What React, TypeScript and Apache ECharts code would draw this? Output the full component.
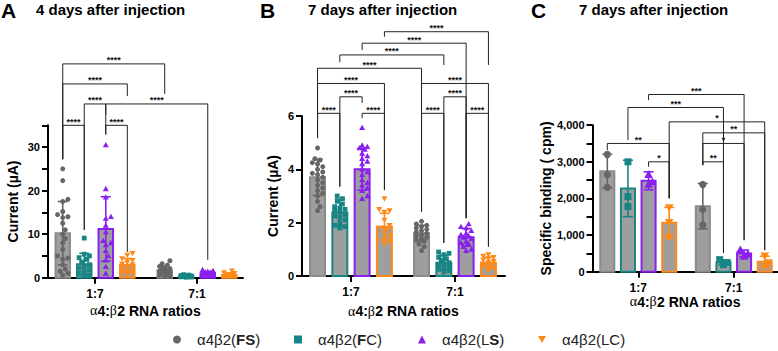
import React, { useEffect, useRef } from 'react';
import * as echarts from 'echarts';

// ---------- shared ----------
const categories = ['1:7', '7:1'];
const groupNames = ['α4β2(FS)', 'α4β2(FC)', 'α4β2(LS)', 'α4β2(LC)'];
const groupColors = ['#666666', '#178583', '#8a1ff0', '#ff8a1a'];
const barStrokes = ['#8a8a8a', '#178583', '#8a1ff0', '#ff8a1a'];
const barFill = '#9e9e9e';
const groupShapes = ['circle', 'square', 'triangle', 'invTriangle'];
const legendIcons = ['circle', 'rect', 'triangle', 'path://M0,0L10,0L5,9Z'];
const legendBold = [[true, true], [true, false], [false, true], [false, false]];
const legendLefts = [173, 294, 418, 538];

// ---------- panel A : 4 days, current (µA) ----------
const aMean = [[10.2, 1.7], [3.1, 0.3], [11.2, 1.0], [2.9, 0.6]];
const aSD = [[7.3, 0.9], [2.5, 0.2], [7.4, 0.4], [1.5, 0.4]];
const aFS17 = [25, 22.3, 18, 17.5, 15.2, 14.5, 14, 13.8, 12.5, 11, 10, 9, 8, 6.5, 5, 4.5, 4.2, 3, 2, 1.5, 1, 0.6];
const aFS71 = [3.9, 3.2, 2.9, 2.6, 2.3, 2.1, 1.9, 1.7, 1.5, 1.3, 1.2, 1.0, 0.8, 0.6, 0.4, 0.3];
const aFC17 = [9.1, 5.4, 5.0, 4.6, 4.2, 3.6, 3.0, 2.6, 2.2, 1.8, 1.4, 1.0, 0.6, 0.4];
const aFC71 = [0.7, 0.6, 0.5, 0.4, 0.35, 0.3, 0.25, 0.2, 0.15, 0.1];
const aLS17 = [30.5, 20.4, 18.5, 14, 13.6, 12, 10.5, 8.5, 8, 7.5, 6.2, 5, 4, 2.5, 1];
const aLS71 = [1.8, 1.6, 1.4, 1.3, 1.2, 1.1, 1.0, 0.9, 0.8, 0.7, 0.6, 0.5, 0.4];
const aLC17 = [5.6, 5.2, 4.4, 4.0, 3.6, 3.2, 3.0, 2.6, 2.3, 2.0, 1.6, 1.3, 1.0, 0.7];
const aLC71 = [1.6, 1.2, 1.0, 0.8, 0.6, 0.5, 0.4, 0.3, 0.2];
const aTicks = [0, 5, 10, 15, 20, 25, 30, 35];
const aLabels = [0, 10, 20, 30];
// [group1, bar1, group2, bar2, level, leftLegEnd, rightLegEnd, label]
const aBrackets: [number, number, number, number, number, number, number, string][] = [
  [0, 0, 1, 0, 49.1, 27.2, 42.2, '****'],
  [0, 0, 0, 3, 44.5, 27.2, 41.7, '****'],
  [0, 1, 0, 2, 39.9, 11.0, 37.5, '****'],
  [0, 2, 1, 2, 39.9, 32.9, 4.1, '****'],
  [0, 0, 0, 1, 35.0, 27.2, 11.0, '****'],
  [0, 2, 0, 3, 35.0, 32.9, 5.9, '****'],
];

// ---------- panel B : 7 days, current (µA) ----------
const bMean = [[3.7, 1.6], [2.38, 0.5], [4.0, 1.45], [1.85, 0.5]];
const bSD = [[0.68, 0.3], [0.5, 0.28], [0.78, 0.33], [0.5, 0.2]];
const bFS17 = [4.8, 4.4, 4.35, 4.25, 4.2, 4.1, 4.0, 3.9, 3.85, 3.8, 3.7, 3.6, 3.5, 3.4, 3.3, 3.2, 3.1, 3.0, 2.8, 2.6, 2.45];
const bFS71 = [2.05, 1.95, 1.9, 1.85, 1.8, 1.75, 1.7, 1.65, 1.6, 1.55, 1.5, 1.45, 1.4, 1.35, 1.3, 1.2, 1.1, 0.95];
const bFC17 = [3.0, 2.9, 2.8, 2.7, 2.6, 2.55, 2.5, 2.45, 2.4, 2.3, 2.25, 2.2, 2.1, 2.0, 1.9, 1.85, 1.8];
const bFC71 = [0.9, 0.85, 0.8, 0.7, 0.65, 0.6, 0.5, 0.45, 0.4, 0.35, 0.3, 0.25, 0.2, 0.15];
const bLS17 = [5.56, 4.9, 4.85, 4.8, 4.75, 4.6, 4.5, 4.4, 4.3, 4.2, 4.0, 3.9, 3.8, 3.6, 3.5, 3.4, 3.3, 3.2, 3.0, 2.9];
const bLS71 = [1.95, 1.85, 1.8, 1.7, 1.6, 1.55, 1.5, 1.45, 1.4, 1.3, 1.25, 1.2, 1.1, 1.0, 0.95];
const bLC17 = [2.9, 2.5, 2.45, 2.4, 2.1, 1.9, 1.8, 1.75, 1.6, 1.5, 1.4, 1.3, 1.2];
const bLC71 = [0.8, 0.75, 0.7, 0.65, 0.6, 0.55, 0.5, 0.45, 0.4, 0.35, 0.3, 0.2];
const bTicks = [0, 2, 4, 6];
const bLabels = [0, 2, 4, 6];
const bBrackets: [number, number, number, number, number, number, number, string][] = [
  [0, 3, 1, 3, 9.16, 8.97, 7.91, '****'],
  [0, 2, 1, 2, 8.73, 8.47, 2.17, '****'],
  [0, 1, 1, 1, 8.29, 8.02, 7.91, '****'],
  [0, 0, 1, 0, 7.79, 5.17, 6.9, '****'],
  [0, 0, 0, 3, 7.22, 5.17, 3.22, '****'],
  [1, 0, 1, 3, 7.22, 2.41, 1.1, '****'],
  [0, 1, 0, 2, 6.72, 3.35, 6.49, '****'],
  [1, 1, 1, 2, 6.72, 1.24, 2.17, '****'],
  [0, 0, 0, 1, 6.1, 5.17, 3.35, '****'],
  [0, 2, 0, 3, 6.1, 5.92, 3.22, '****'],
  [1, 0, 1, 1, 6.1, 2.41, 1.24, '****'],
  [1, 2, 1, 3, 6.1, 2.17, 1.1, '****'],
];

// ---------- panel C : 7 days, specific binding (cpm) ----------
const cMean = [[2745, 1790], [2273, 255], [2482, 500], [1336, 273]];
const cSD = [[460, 620], [770, 70], [245, 90], [420, 150]];
const cFS17 = [3200, 2650, 2300];
const cFS71 = [2380, 1700, 1280];
const cFC17 = [3000, 2050, 1780];
const cFC71 = [330, 250, 190];
const cLS17 = [2650, 2450, 2380];
const cLS71 = [600, 480, 420];
const cLC17 = [1750, 1350, 950];
const cLC71 = [430, 250, 140];
const cTicks = [0, 500, 1000, 1500, 2000, 2500, 3000, 3500, 4000];
const cLabels = [0, 1000, 2000, 3000, 4000];
const cBrackets: [number, number, number, number, number, number, number, string][] = [
  [0, 2, 1, 2, 4838, 4683, 860, '***'],
  [0, 1, 1, 1, 4484, 3592, 510, '***'],
  [0, 3, 1, 3, 4091, 2005, 590, '*'],
  [1, 0, 1, 3, 3791, 2910, 590, '**'],
  [1, 0, 1, 2, 3502, 2910, 860, '*'],
  [0, 0, 0, 3, 3502, 3319, 2005, '**'],
  [0, 2, 0, 3, 3000, 2864, 2005, '*'],
  [1, 0, 1, 1, 3000, 2910, 510, '**'],
];

const FONT = '"Liberation Sans", Arial, Helvetica, sans-serif';

type Panel = {
  letter: string;
  title: string;
  letterX: number;
  titleX: number;
  grid: { left: number; top: number; width: number; height: number };
  xMin: number;
  xMax: number;
  spacing: number;
  barW: number;
  markerScale: number;
  yMax: number;
  yInterval: number;
  yTicks: number[];
  yLabels: number[];
  yName: string;
  yNameGap: number;
  xNameGap: number;
  fmt: (v: number) => string;
  means: number[][];
  sds: number[][];
  points: number[][][];
  brackets: [number, number, number, number, number, number, number, string][];
};

const panels: Panel[] = [
  {
    letter: 'A', title: '4 days after injection', letterX: 1, titleX: 36,
    grid: { left: 48, top: 125.3, width: 195, height: 152.4 },
    xMin: -0.461, xMax: 1.451, spacing: 0.211, barW: 0.142, markerScale: 1,
    yMax: 35, yInterval: 5, yTicks: aTicks, yLabels: aLabels,
    yName: 'Current (µA)', yNameGap: 28, xNameGap: 26,
    fmt: (v) => String(v),
    means: aMean, sds: aSD,
    points: [[aFS17, aFS71], [aFC17, aFC71], [aLS17, aLS71], [aLC17, aLC71]],
    brackets: aBrackets,
  },
  {
    letter: 'B', title: '7 days after injection', letterX: 260, titleX: 308,
    grid: { left: 302, top: 116, width: 203, height: 160 },
    xMin: -0.471, xMax: 1.481, spacing: 0.2144, barW: 0.144, markerScale: 1,
    yMax: 6, yInterval: 2, yTicks: bTicks, yLabels: bLabels,
    yName: 'Current (µA)', yNameGap: 22, xNameGap: 28,
    fmt: (v) => String(v),
    means: bMean, sds: bSD,
    points: [[bFS17, bFS71], [bFC17, bFC71], [bLS17, bLS71], [bLC17, bLC71]],
    brackets: bBrackets,
  },
  {
    letter: 'C', title: '7 days after injection', letterX: 531, titleX: 579,
    grid: { left: 592.5, top: 125.2, width: 185.5, height: 146.5 },
    xMin: -0.479, xMax: 1.463, spacing: 0.216, barW: 0.147, markerScale: 1.45,
    yMax: 4000, yInterval: 500, yTicks: cTicks, yLabels: cLabels,
    yName: 'Specific binding ( cpm)', yNameGap: 40, xNameGap: 21,
    fmt: (v) => v.toLocaleString('en-US'),
    means: cMean, sds: cSD,
    points: [[cFS17, cFS71], [cFC17, cFC71], [cLS17, cLS71], [cLC17, cLC71]],
    brackets: cBrackets,
  },
];

// deterministic beeswarm: spread points sideways only where they would overlap
function swarm(pys: number[], cx: number, step: number, minDist: number, maxOff: number): number[] {
  const idx = pys.map((_, i) => i).sort((a, b) => pys[b] - pys[a]);
  const placed: [number, number][] = [];
  const xs: number[] = new Array(pys.length).fill(cx);
  for (const i of idx) {
    const y = pys[i];
    let chosen = cx;
    let bestScore = -1;
    const nSteps = Math.floor(maxOff / step);
    for (let k = 0; k <= nSteps * 2; k++) {
      const off = k === 0 ? 0 : (k % 2 ? 1 : -1) * Math.ceil(k / 2) * step;
      const x = cx + off;
      let md = Infinity;
      for (const [px, py] of placed) {
        const d = Math.hypot(px - x, py - y);
        if (d < md) md = d;
      }
      if (md >= minDist) { chosen = x; bestScore = Infinity; break; }
      if (md > bestScore) { bestScore = md; chosen = x; }
    }
    xs[i] = chosen;
    placed.push([chosen, y]);
  }
  return xs;
}

function marker(shape: string, cx: number, cy: number, color: string, s: number): any {
  if (shape === 'circle') return { type: 'circle', shape: { cx, cy, r: 2.5 * s }, style: { fill: color } };
  if (shape === 'square') return { type: 'rect', shape: { x: cx - 2.4 * s, y: cy - 2.4 * s, width: 4.8 * s, height: 4.8 * s }, style: { fill: color } };
  if (shape === 'triangle') return { type: 'polygon', shape: { points: [[cx, cy - 3 * s], [cx + 3 * s, cy + 2.3 * s], [cx - 3 * s, cy + 2.3 * s]] }, style: { fill: color } };
  return { type: 'polygon', shape: { points: [[cx - 3 * s, cy - 2.3 * s], [cx + 3 * s, cy - 2.3 * s], [cx, cy + 3 * s]] }, style: { fill: color } };
}

function barRenderer(p: Panel, g: number) {
  return (_params: any, api: any) => {
    const cat = api.value(0) as number;
    const mean = api.value(1) as number;
    const sd = api.value(2) as number;
    const xc = cat + (g - 1.5) * p.spacing;
    const tl = api.coord([xc - p.barW / 2, mean]);
    const br = api.coord([xc + p.barW / 2, 0]);
    const cx = (tl[0] + br[0]) / 2;
    const color = groupColors[g];
    const children: any[] = [];
    children.push({
      type: 'rect',
      shape: { x: tl[0], y: tl[1], width: br[0] - tl[0], height: br[1] - tl[1] },
      style: { fill: barFill, stroke: barStrokes[g], lineWidth: 2 },
    });
    const yTop = api.coord([xc, mean + sd])[1];
    const yBot = api.coord([xc, Math.max(mean - sd, 0)])[1];
    const cap = 5;
    children.push({ type: 'line', shape: { x1: cx, y1: yTop, x2: cx, y2: yBot }, style: { stroke: color, lineWidth: 1.6 } });
    children.push({ type: 'line', shape: { x1: cx - cap, y1: yTop, x2: cx + cap, y2: yTop }, style: { stroke: color, lineWidth: 1.6 } });
    children.push({ type: 'line', shape: { x1: cx - cap, y1: yBot, x2: cx + cap, y2: yBot }, style: { stroke: color, lineWidth: 1.6 } });
    const pts = p.points[g][cat];
    const pys = pts.map((v) => api.coord([xc, v])[1]);
    const s = p.markerScale;
    const xs = swarm(pys, cx, 2.6 * s, 4.6 * s, 7);
    pts.forEach((_v, i) => children.push(marker(groupShapes[g], xs[i], pys[i], color, s)));
    return { type: 'group', children };
  };
}

function bracketRenderer(p: Panel) {
  return (params: any, api: any) => {
    const g1 = api.value(0), b1 = api.value(1), g2 = api.value(2), b2 = api.value(3);
    const lv = api.value(4), e1 = api.value(5), e2 = api.value(6);
    const x1 = g1 + (b1 - 1.5) * p.spacing;
    const x2 = g2 + (b2 - 1.5) * p.spacing;
    const p1 = api.coord([x1, e1]);
    const p2 = api.coord([x1, lv]);
    const p3 = api.coord([x2, lv]);
    const p4 = api.coord([x2, e2]);
    const label = p.brackets[params.dataIndex][7];
    return {
      type: 'group',
      children: [
        { type: 'polyline', shape: { points: [p1, p2, p3, p4] }, style: { stroke: '#222', lineWidth: 1, fill: 'none' } },
        {
          type: 'text', x: (p2[0] + p3[0]) / 2, y: p2[1] + 1,
          style: { text: label, fill: '#111', fontSize: 9, fontWeight: 'bold', fontFamily: FONT, align: 'center', verticalAlign: 'bottom' },
        },
      ],
    };
  };
}

function buildOption(): any {
  const axisLineStyle = { color: '#000', width: 2 };
  const title: any[] = [];
  panels.forEach((p) => {
    title.push({ text: p.letter, left: p.letterX, top: 0, padding: 0, textStyle: { fontSize: 21, fontWeight: 'bold', color: '#000', fontFamily: FONT } });
    title.push({ text: p.title, left: p.titleX, top: 2, padding: 0, textStyle: { fontSize: 15, fontWeight: 'bold', color: '#000', fontFamily: FONT } });
  });

  const series: any[] = [];
  panels.forEach((p, i) => {
    for (let g = 0; g < 4; g++) {
      series.push({
        type: 'custom',
        name: groupNames[g],
        xAxisIndex: i,
        yAxisIndex: i,
        data: [0, 1].map((c) => [c, p.means[g][c], p.sds[g][c]]),
        itemStyle: { color: groupColors[g] },
        renderItem: barRenderer(p, g),
        silent: true,
        z: 2,
      });
    }
    series.push({
      type: 'custom',
      xAxisIndex: i,
      yAxisIndex: i,
      data: p.brackets.map((b) => b.slice(0, 7)),
      renderItem: bracketRenderer(p),
      silent: true,
      clip: false,
      z: 3,
    });
  });

  return {
    animation: false,
    backgroundColor: '#fff',
    title,
    grid: panels.map((p) => ({ ...p.grid, containLabel: false })),
    xAxis: panels.map((p, i) => ({
      type: 'value',
      gridIndex: i,
      min: p.xMin,
      max: p.xMax,
      splitLine: { show: false },
      axisLine: { show: true, onZero: false, lineStyle: axisLineStyle },
      axisTick: { show: true, customValues: [0, 1], length: 6, lineStyle: axisLineStyle },
      axisLabel: {
        customValues: [0, 1],
        formatter: (v: number) => categories[Math.round(v)],
        color: '#000', fontSize: 12, fontWeight: 'bold', fontFamily: FONT, margin: 10,
      },
      name: '{g|α}4:{g|β}2 RNA ratios',
      nameLocation: 'middle',
      nameGap: p.xNameGap,
      nameTextStyle: {
        fontSize: 14, fontWeight: 'bold', color: '#000', fontFamily: FONT,
        rich: { g: { fontSize: 14, fontFamily: '"Liberation Serif", "DejaVu Serif", serif', fontWeight: 'normal', color: '#000' } },
      },
    })),
    yAxis: panels.map((p, i) => ({
      type: 'value',
      gridIndex: i,
      min: 0,
      max: p.yMax,
      interval: p.yInterval,
      splitLine: { show: false },
      axisLine: { show: true, onZero: false, lineStyle: axisLineStyle },
      axisTick: { show: true, customValues: p.yTicks, length: 6, lineStyle: axisLineStyle },
      axisLabel: {
        customValues: p.yLabels,
        formatter: (v: number) => p.fmt(v),
        color: '#000', fontSize: 11, fontWeight: 'bold', fontFamily: FONT, margin: 8,
      },
      name: p.yName,
      nameLocation: 'middle',
      nameGap: p.yNameGap,
      nameRotate: 90,
      nameTextStyle: { fontSize: 14, fontWeight: 'bold', color: '#000', fontFamily: FONT },
    })),
    legend: groupNames.map((n, g) => ({
      data: [{ name: n, icon: legendIcons[g], itemStyle: { color: groupColors[g] } }],
      left: legendLefts[g],
      top: 332,
      padding: 0,
      itemWidth: 8,
      itemHeight: 8,
      selectedMode: false,
      formatter: (name: string) => {
        const inner = name.slice(5, name.length - 1);
        const parts = inner.split('').map((ch, k) => (legendBold[g][k] ? `{b|${ch}}` : `{n|${ch}}`)).join('');
        return `{sp| }{n|α4β2(}${parts}{n|)}`;
      },
      textStyle: {
        fontSize: 15, color: '#222', fontFamily: FONT,
        rich: {
          sp: { width: 11 },
          n: { fontSize: 15, color: '#222', fontFamily: FONT },
          b: { fontSize: 15, color: '#222', fontFamily: FONT, fontWeight: 'bold' },
        },
      },
    })),
    series,
  };
}

export default function App() {
  const ref = useRef<HTMLDivElement>(null);
  useEffect(() => {
    document.body.style.margin = '0';
    const chart = echarts.init(ref.current as HTMLDivElement, null, { renderer: 'svg' });
    chart.setOption(buildOption());
    return () => {
      chart.dispose();
    };
  }, []);
  return <div ref={ref} style={{ width: 778, height: 351 }} />;
}
